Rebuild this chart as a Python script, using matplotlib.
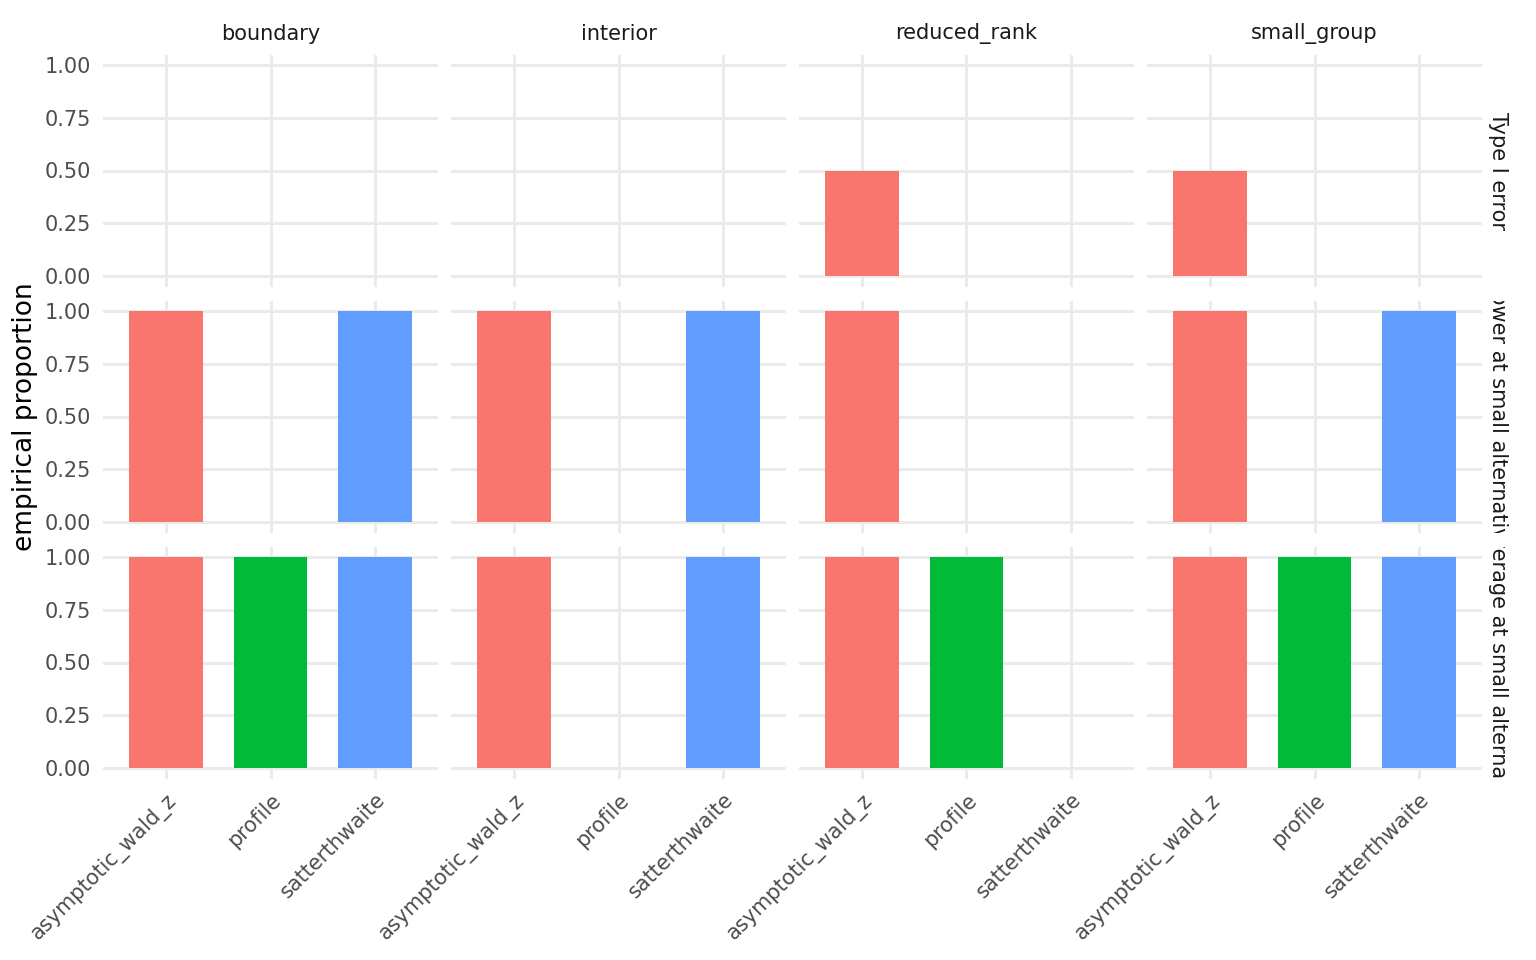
import matplotlib
matplotlib.use("Agg")
import matplotlib.pyplot as plt
import numpy as np

plt.rcParams['font.family'] = ['DejaVu Sans']

scenarios = ["boundary", "interior", "reduced_rank", "small_group"]
metrics = ["Type I error", "Power at small alternative", "Coverage at small alternative"]
methods = ["asymptotic_wald_z", "profile", "satterthwaite"]
colors = ["#F8766D", "#00BA38", "#619CFF"]

# values[metric][scenario] -> per method
type1 = {
    "boundary":     [0.0, 0.0, 0.0],
    "interior":     [0.0, 0.0, 0.0],
    "reduced_rank": [0.5, 0.0, 0.0],
    "small_group":  [0.5, 0.0, 0.0],
}
power = {
    "boundary":     [1.0, 0.0, 1.0],
    "interior":     [1.0, 0.0, 1.0],
    "reduced_rank": [1.0, 0.0, 0.0],
    "small_group":  [1.0, 0.0, 1.0],
}
coverage = {
    "boundary":     [1.0, 1.0, 1.0],
    "interior":     [1.0, 0.0, 1.0],
    "reduced_rank": [1.0, 1.0, 0.0],
    "small_group":  [1.0, 1.0, 1.0],
}
values = [type1, power, coverage]
yticks = [0.0, 0.25, 0.50, 0.75, 1.00]
ytick_labels = ["0.00", "0.25", "0.50", "0.75", "1.00"]

W, H = 1536, 960
fig = plt.figure(figsize=(W / 100, H / 100), dpi=100)
fig.patch.set_facecolor("white")

col_left = [103.3, 451.3, 799.3, 1147.3]
pw = 334.4
row_top = [54.5, 300.5, 546.5]
ph = 232.0

grid_c = "#EBEBEB"
tick_c = "#4D4D4D"
fs_tick = 15.0
fs_strip = 15.0

for r, metric in enumerate(metrics):
    for c, sc in enumerate(scenarios):
        ax = fig.add_axes([col_left[c] / W, 1 - (row_top[r] + ph) / H, pw / W, ph / H])
        ax.set_facecolor("white")
        vals = values[r][sc]
        ax.bar(methods, vals, width=0.7, color=colors, zorder=3)
        ax.set_xlim(-0.6, 2.6)
        ax.set_ylim(-0.05, 1.05)
        ax.set_yticks(yticks)
        ax.grid(True, color=grid_c, linewidth=2.1, zorder=0)
        ax.set_axisbelow(True)
        for s in ax.spines.values():
            s.set_visible(False)
        ax.tick_params(length=0, colors=tick_c, labelsize=fs_tick, pad=9.0)
        if c == 0:
            ax.set_yticklabels(ytick_labels)
        else:
            ax.set_yticklabels([])
        if r == len(metrics) - 1:
            ax.set_xticks(range(len(methods)))
            ax.set_xticklabels(methods, rotation=45, ha="right", va="top",
                               rotation_mode="anchor")
            ax.tick_params(axis="x", pad=8)
        else:
            ax.set_xticklabels([])
        if r == 0:
            fig.text((col_left[c] + pw / 2) / W, 1 - 34 / H, sc, ha="center",
                     va="center", fontsize=fs_strip, color="#1A1A1A")
    # right strip (clipped to panel height, as in the reference)
    sax = fig.add_axes([1484 / W, 1 - (row_top[r] + ph) / H, 28 / W, ph / H])
    sax.axis("off")
    sax.text(0.5, 0.5, metric, rotation=270, ha="center", va="center",
             fontsize=fs_strip, color="#1A1A1A", transform=sax.transAxes,
             clip_on=True)

fig.text(25 / W, 1 - 416.5 / H, "empirical proportion", rotation=90,
         ha="center", va="center", fontsize=19, color="black")

fig.savefig("out.png", dpi=100)
